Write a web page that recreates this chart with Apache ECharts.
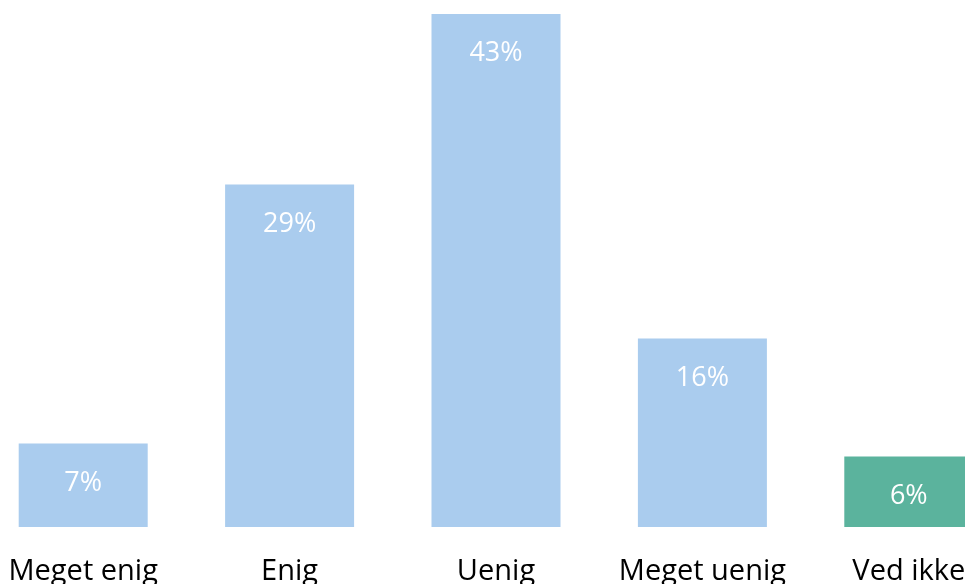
<!DOCTYPE html>
<html>
<head>
<meta charset="utf-8">
<script src="https://cdn.jsdelivr.net/npm/echarts@6/dist/echarts.min.js"></script>
<style>
html,body{margin:0;padding:0;background:#fff;}
#chart{width:965px;height:584px;}
</style>
</head>
<body>
<div id="chart"></div>
<script>
const categories = ['Meget enig', 'Enig', 'Uenig', 'Meget uenig', 'Ved ikke'];
const values = [7.0, 28.7, 43.0, 15.8, 5.9];
const labels = ['7%', '29%', '43%', '16%', '6%'];

const blue = '#AACCEE';
const green = '#5BB39D';
const chart = echarts.init(document.getElementById('chart'), null, {renderer: 'canvas'});
chart.setOption({
  animation: false,
  backgroundColor: '#ffffff',
  grid: {left: -20, right: -47, top: 14, bottom: 57, containLabel: false, outerBoundsMode: 'none'},
  xAxis: {
    type: 'category',
    data: categories,
    axisLine: {show: false},
    axisTick: {show: false},
    axisLabel: {
      color: '#000000',
      fontFamily: 'Open Sans',
      fontSize: 29,
      margin: 30,
      interval: 0,
      hideOverlap: false
    }
  },
  yAxis: {
    type: 'value',
    min: 0,
    max: 43,
    show: false,
    splitLine: {show: false}
  },
  series: [{
    type: 'bar',
    barWidth: 129,
    data: values.map((v, i) => ({
      value: v,
      itemStyle: {color: i === categories.length - 1 ? green : blue}
    })),
    label: {
      show: true,
      position: 'insideTop',
      distance: 26,
      color: '#ffffff',
      fontFamily: 'Open Sans',
      fontSize: 27,
      formatter: p => labels[p.dataIndex]
    }
  }]
});
</script>
</body>
</html>
